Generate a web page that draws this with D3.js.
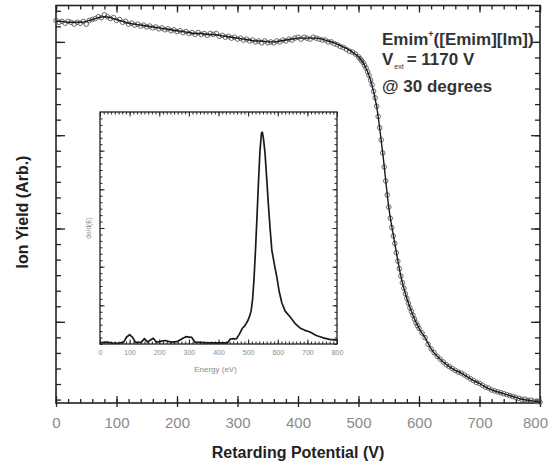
<!DOCTYPE html>
<html>
<head>
<meta charset="utf-8">
<script src="https://cdn.jsdelivr.net/npm/d3@7"></script>
<style>
body { margin: 0; background: #fff; }
svg { display: block; font-family: "Liberation Sans", Arial, sans-serif; }
</style>
</head>
<body>
<script>
// retarding potential scan, arbitrary yield units (one major tick = 1)
var potentialTicks = [0, 100, 200, 300, 400, 500, 600, 700, 800];
var yieldMajorTicks = [0.87, 1.87, 2.87, 3.87];

// measured points: 5 V steps, 2.5 V steps across the cut-off
var scanV = d3.range(0, 500, 5).concat(d3.range(500, 600, 2.5), d3.range(600, 805, 5));
var scanYield = [
    4.10,4.08,4.09,4.07,4.09,4.08,4.06,4.08,4.07,4.09,
    4.06,4.10,4.11,4.12,4.14,4.13,4.16,4.14,4.12,4.13,
    4.10,4.11,4.08,4.09,4.06,4.07,4.05,4.06,4.04,4.05,
    4.03,4.04,4.02,4.03,4.01,4.02,4.00,4.01,3.99,4.00,
    3.98,3.99,3.97,3.98,3.96,3.97,3.95,3.97,3.95,3.96,
    3.94,3.96,3.95,3.96,3.93,3.94,3.92,3.93,3.91,3.92,
    3.90,3.91,3.89,3.90,3.88,3.89,3.87,3.88,3.86,3.88,
    3.86,3.87,3.86,3.88,3.87,3.89,3.88,3.90,3.89,3.91,
    3.92,3.90,3.92,3.91,3.90,3.92,3.91,3.90,3.89,3.89,
    3.87,3.87,3.85,3.84,3.82,3.81,3.79,3.77,3.76,3.74,
    // 500 - 597.5
    3.71,3.69,3.67,3.65,3.62,3.59,3.55,3.51,3.46,3.41,
    3.34,3.27,3.18,3.07,2.95,2.82,2.68,2.53,2.38,2.23,
    2.10,1.98,1.88,1.79,1.71,1.61,1.52,1.44,1.36,1.29,
    1.23,1.17,1.12,1.07,1.02,0.98,0.94,0.90,0.86,0.83,
    // 600 - 800
    0.80,0.75,0.70,0.63,0.58,0.54,0.50,0.47,0.44,0.41,
    0.39,0.37,0.35,0.33,0.32,0.30,0.28,0.26,0.24,0.22,
    0.21,0.19,0.17,0.16,0.14,0.13,0.12,0.11,0.10,0.09,
    0.08,0.07,0.06,0.05,0.04,0.04,0.03,0.03,0.02,0.02,
    0.01
];

// fitted curve, 10 V steps
var fitV = d3.range(0, 805, 10);
var fitYield = [
    4.09,4.09,4.08,4.08,4.08,4.09,4.11,4.13,4.14,4.13,
    4.11,4.09,4.07,4.06,4.05,4.04,4.03,4.02,4.01,4.00,
    3.99,3.98,3.97,3.96,3.96,3.95,3.95,3.94,3.93,3.92,
    3.91,3.90,3.89,3.88,3.88,3.87,3.87,3.88,3.89,3.90,
    3.91,3.91,3.91,3.91,3.90,3.88,3.86,3.83,3.80,3.76,
    3.71,3.62,3.46,3.18,2.68,2.10,1.71,1.36,1.12,0.94,
    0.80,0.70,0.58,0.50,0.44,0.39,0.35,0.32,0.28,0.24,
    0.21,0.17,0.14,0.12,0.10,0.08,0.06,0.04,0.03,0.02,
    0.01
];

// inset: energy distribution dE/d(E)
var energyTicks = [0, 100, 200, 300, 400, 500, 600, 700, 800];
var spectrumE = [0,20,40,60,80, 90,100,110,120, 140,150,160, 180,190,200, 220,240,260,
    280,290,300,310,320, 340,360,400, 430,440,450,460,470, 480,490,500,505,510,
    515,520,525,530,535, 540,545,548,552,557, 563,568,574,580,590, 597,605,614,625,642,
    660,676,690,709,730, 753,775,800];
var spectrumDe = [0.03,0.05,0.03,0.02,0.05, 0.18,0.24,0.17,0.04, 0.05,0.14,0.05, 0.15,0.05,0.06, 0.09,0.05,0.06,
    0.15,0.19,0.18,0.17,0.05, 0.04,0.03,0.03, 0.03,0.13,0.14,0.13,0.25, 0.40,0.48,0.62,0.72,0.85,
    1.15,1.70,2.45,3.30,4.20, 5.00,5.45,5.48,5.30,4.94, 4.25,3.65,3.00,2.43,2.00, 1.73,1.35,1.06,0.85,0.70,
    0.52,0.41,0.36,0.31,0.22, 0.16,0.12,0.10];

var width = 550, height = 466;
var ink = "#222";

var svg = d3.select("body").append("svg")
    .attr("width", width)
    .attr("height", height);

var x = d3.scaleLinear().domain([0, 800]).range([56, 540]);
var y = d3.scaleLinear().domain([0, 4.26]).range([403, 5.5]);

function ticks(parent, axis, tr, sw) {
    var g = parent.append("g").attr("transform", tr).call(axis);
    g.select(".domain").remove();
    g.selectAll(".tick line").attr("stroke", ink).attr("stroke-width", sw || 1.3);
    return g;
}

// ---- main axes
var potentialMinor = d3.range(0, 801, 20);
var yieldMinor = d3.range(-5, 21).map(function(i) { return yieldMajorTicks[0] + i / 6; });

ticks(svg, d3.axisBottom(x).tickValues(potentialMinor).tickSize(-4).tickFormat(""), "translate(0," + y(0) + ")");
ticks(svg, d3.axisBottom(x).tickValues(potentialTicks).tickSize(-7).tickFormat(""), "translate(0," + y(0) + ")");
var xLab = ticks(svg, d3.axisBottom(x).tickValues(potentialTicks).tickSize(4).tickPadding(10)
    .tickFormat(d3.format("d")), "translate(0," + y(0) + ")");
xLab.selectAll("text")
    .attr("fill", "#8a8a8a")
    .attr("font-size", 15)
    .attr("font-family", "Liberation Sans, Arial, sans-serif")
    .attr("dx", function(d) { return d === 800 ? -5 : 0; });   // keep the last label inside the page

ticks(svg, d3.axisTop(x).tickValues(potentialMinor).tickSize(-4).tickFormat(""), "translate(0," + y(4.26) + ")");
ticks(svg, d3.axisTop(x).tickValues(potentialTicks).tickSize(-7).tickFormat(""), "translate(0," + y(4.26) + ")");

ticks(svg, d3.axisLeft(y).tickValues(yieldMinor).tickSize(-5).tickFormat(""), "translate(" + x(0) + ",0)");
ticks(svg, d3.axisLeft(y).tickValues(yieldMajorTicks).tickSize(-9).tickFormat(""), "translate(" + x(0) + ",0)");
ticks(svg, d3.axisRight(y).tickValues(yieldMinor).tickSize(-5).tickFormat(""), "translate(" + x(800) + ",0)");
ticks(svg, d3.axisRight(y).tickValues(yieldMajorTicks).tickSize(-9).tickFormat(""), "translate(" + x(800) + ",0)");

svg.append("rect")
    .attr("x", x(0)).attr("y", y(4.26))
    .attr("width", x(800) - x(0)).attr("height", y(0) - y(4.26))
    .attr("fill", "none").attr("stroke", ink).attr("stroke-width", 1.6);

svg.append("text")
    .attr("x", (x(0) + x(800)) / 2)
    .attr("y", 458)
    .attr("text-anchor", "middle")
    .attr("font-size", 16).attr("font-weight", "bold")
    .attr("fill", ink)
    .text("Retarding Potential (V)");

svg.append("text")
    .attr("transform", "translate(28,212) rotate(-90)")
    .attr("text-anchor", "middle")
    .attr("font-size", 16).attr("font-weight", "bold")
    .attr("fill", ink)
    .text("Ion Yield (Arb.)");

// ---- main data
var scan = scanV.map(function(v, i) { return {v: v, y: scanYield[i]}; });
var fit = fitV.map(function(v, i) { return {v: v, y: fitYield[i]}; });

svg.append("g").selectAll("circle")
    .data(scan)
    .enter()
    .append("circle")
    .attr("cx", function(d) { return x(d.v); })
    .attr("cy", function(d) { return y(d.y); })
    .attr("r", 2.3)
    .attr("fill", "none")
    .attr("stroke", "#5a5a5a")
    .attr("stroke-width", 0.9);

svg.append("path")
    .datum(fit)
    .attr("fill", "none")
    .attr("stroke", "#1a1a1a")
    .attr("stroke-width", 1.4)
    .attr("d", d3.line()
        .x(function(d) { return x(d.v); })
        .y(function(d) { return y(d.y); })
        .curve(d3.curveMonotoneX));

// ---- annotation
var note = svg.append("g")
    .attr("fill", "#333")
    .attr("font-size", 17)
    .attr("font-weight", "bold");

var t1 = note.append("text").attr("x", 382).attr("y", 45);
t1.append("tspan").text("Emim");
t1.append("tspan").attr("font-size", 9).attr("dy", -8).text("+");
t1.append("tspan").attr("dy", 8).text("([Emim][Im])");

var t2 = note.append("text").attr("x", 382).attr("y", 65);
t2.append("tspan").text("V");
t2.append("tspan").attr("font-size", 7).attr("font-weight", "normal").attr("dy", 4).attr("dx", 1).text("ext");
t2.append("tspan").attr("dy", -4).attr("dx", 3).text("= 1170 V");

note.append("text").attr("x", 382).attr("y", 92).text("@ 30 degrees");

// ---- inset
var inset = svg.append("g");
var xi = d3.scaleLinear().domain([0, 800]).range([100, 337]);
var yi = d3.scaleLinear().domain([0, 6]).range([344, 112]);

inset.append("rect")
    .attr("x", xi(0)).attr("y", yi(6))
    .attr("width", xi(800) - xi(0)).attr("height", yi(0) - yi(6))
    .attr("fill", "#fff");

var energyMinor = d3.range(0, 801, 12.5);
var deMinor = d3.range(0, 36).map(function(i) { return i / 6; });
var deMajor = [1, 2, 3, 4, 5];

ticks(inset, d3.axisBottom(xi).tickValues(energyMinor).tickSize(-2.5).tickFormat(""), "translate(0," + yi(0) + ")", 1);
var xiLab = ticks(inset, d3.axisBottom(xi).tickValues(energyTicks).tickSize(-4.5).tickPadding(6)
    .tickFormat(d3.format("d")), "translate(0," + yi(0) + ")", 1);
xiLab.selectAll("text")
    .attr("fill", "#8a8a8a")
    .attr("font-size", 7)
    .attr("font-family", "Liberation Sans, Arial, sans-serif");

ticks(inset, d3.axisTop(xi).tickValues(energyMinor).tickSize(-2.5).tickFormat(""), "translate(0," + yi(6) + ")", 1);
ticks(inset, d3.axisTop(xi).tickValues(energyTicks).tickSize(-4.5).tickFormat(""), "translate(0," + yi(6) + ")", 1);
ticks(inset, d3.axisLeft(yi).tickValues(deMinor).tickSize(-2.5).tickFormat(""), "translate(" + xi(0) + ",0)", 1);
ticks(inset, d3.axisLeft(yi).tickValues(deMajor).tickSize(-4.5).tickFormat(""), "translate(" + xi(0) + ",0)", 1);
ticks(inset, d3.axisRight(yi).tickValues(deMinor).tickSize(-2.5).tickFormat(""), "translate(" + xi(800) + ",0)", 1);
ticks(inset, d3.axisRight(yi).tickValues(deMajor).tickSize(-4.5).tickFormat(""), "translate(" + xi(800) + ",0)", 1);

inset.append("rect")
    .attr("x", xi(0)).attr("y", yi(6))
    .attr("width", xi(800) - xi(0)).attr("height", yi(0) - yi(6))
    .attr("fill", "none").attr("stroke", ink).attr("stroke-width", 1.3);

var spectrum = spectrumE.map(function(e, i) { return {e: e, de: spectrumDe[i]}; });
inset.append("path")
    .datum(spectrum)
    .attr("fill", "none")
    .attr("stroke", "#1a1a1a")
    .attr("stroke-width", 1.7)
    .attr("stroke-linejoin", "round")
    .attr("d", d3.line()
        .x(function(d) { return xi(d.e); })
        .y(function(d) { return yi(d.de); }));

inset.append("text")
    .attr("x", (xi(0) + xi(800)) / 2 - 3)
    .attr("y", 372)
    .attr("text-anchor", "middle")
    .attr("font-size", 8)
    .attr("fill", "#8a8a8a")
    .text("Energy (eV)");

inset.append("text")
    .attr("transform", "translate(91," + ((yi(0) + yi(6)) / 2) + ") rotate(-90)")
    .attr("text-anchor", "middle")
    .attr("font-size", 6.5)
    .attr("fill", "#8a8a8a")
    .text("de/d(E)");
</script>
</body>
</html>
